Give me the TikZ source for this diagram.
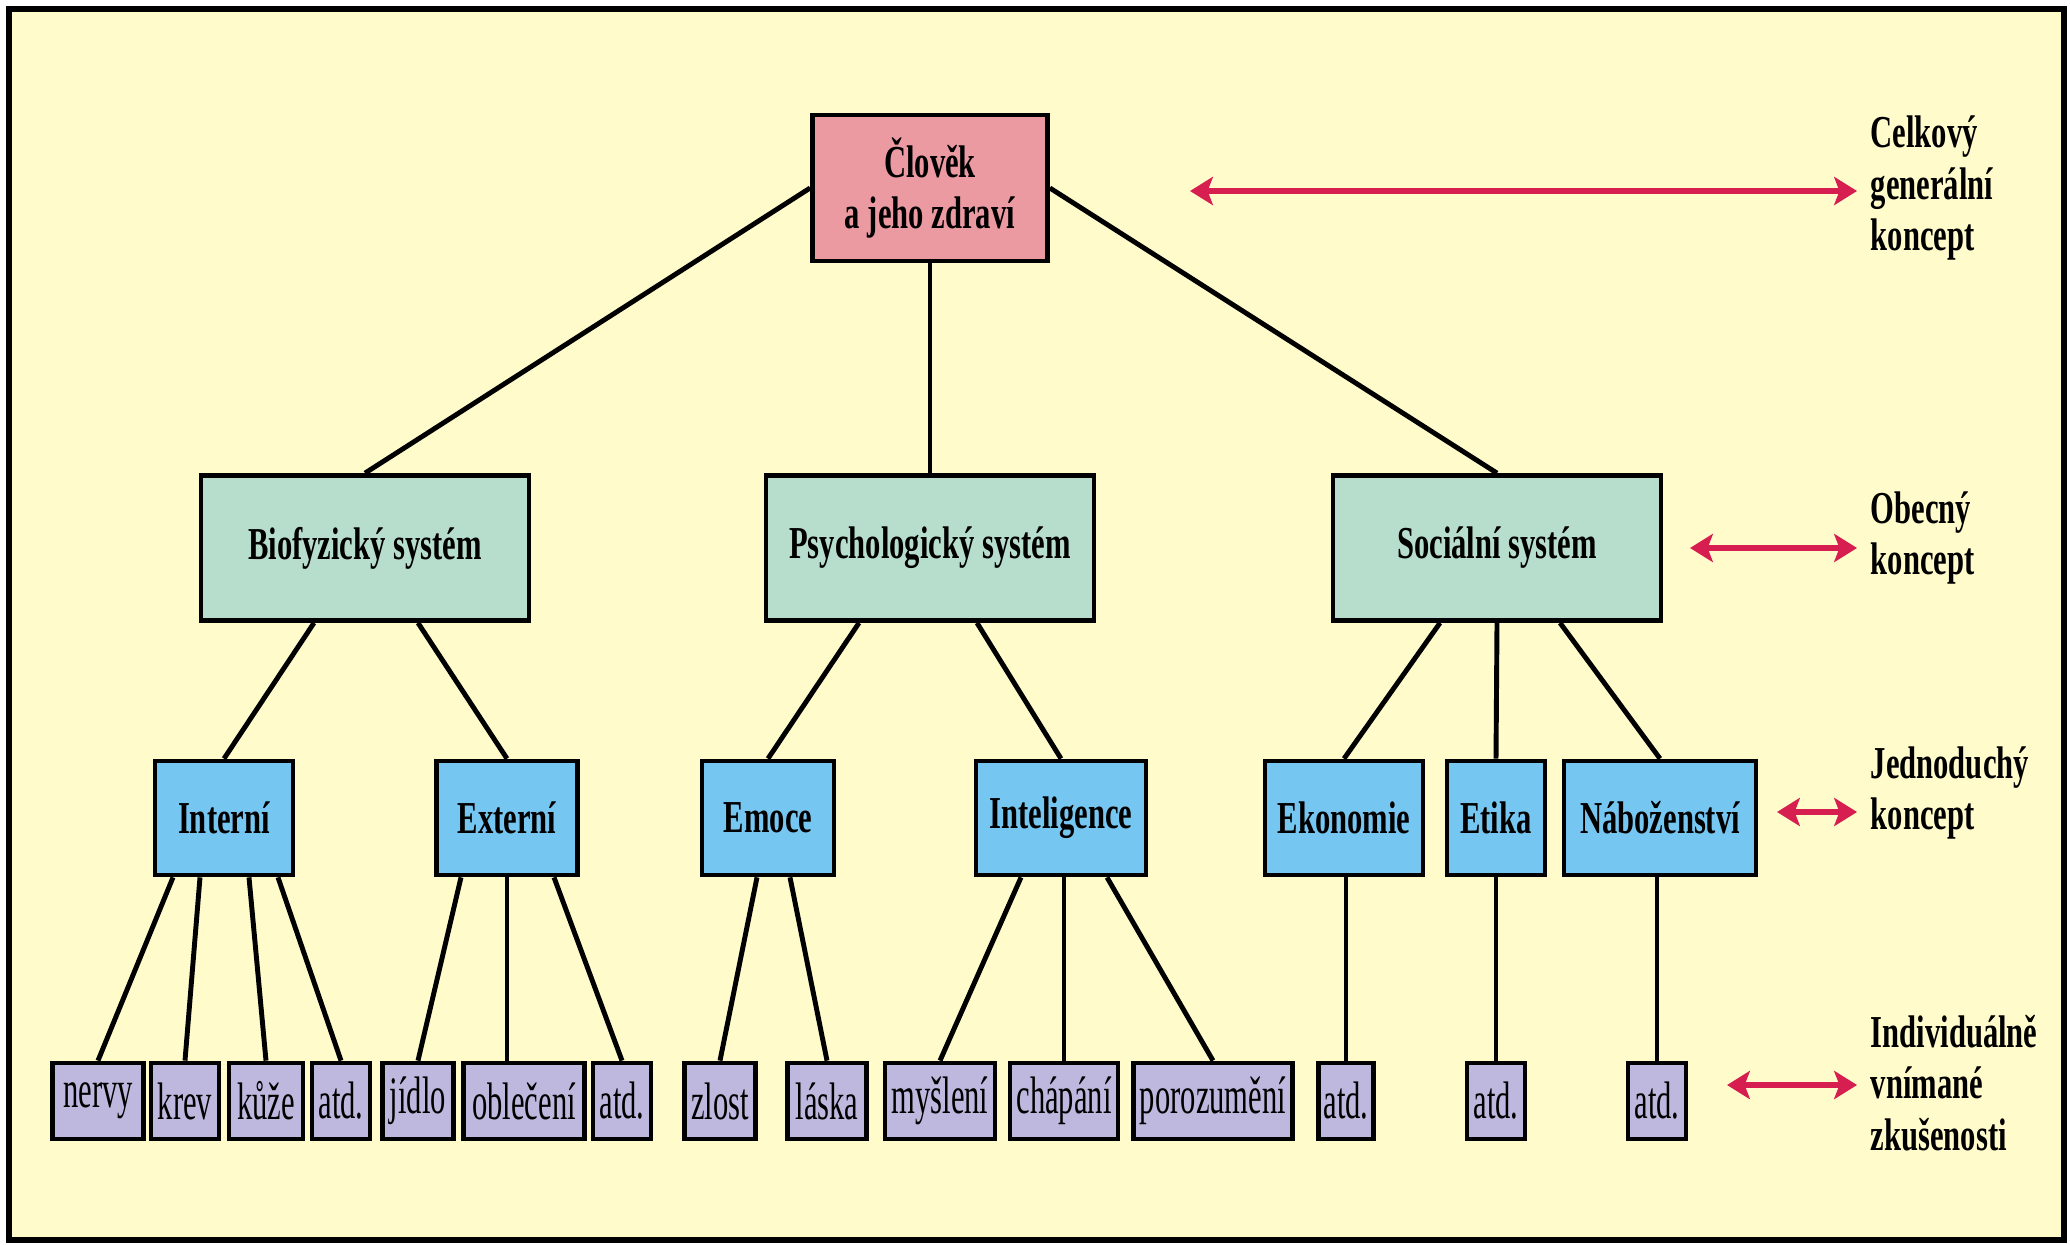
\documentclass[tikz,border=0pt]{standalone}
\usepackage{fontspec}
\setmainfont{Liberation Serif}
\newfontfamily\headfont{Liberation Serif}[FakeStretch=0.67]
\newfontfamily\leaffont{Liberation Serif}[FakeStretch=0.58]
\usetikzlibrary{arrows.meta}
\definecolor{paperyellow}{RGB}{255,251,203}
\definecolor{rootpink}{RGB}{236,154,162}
\definecolor{systemgreen}{RGB}{183,222,204}
\definecolor{conceptblue}{RGB}{118,198,242}
\definecolor{leaflilac}{RGB}{190,183,222}
\definecolor{arrowred}{RGB}{214,30,80}

\begin{document}
\begin{tikzpicture}[x=1cm, y=-1cm,
  box/.style={draw=black, line width=1.35pt, inner sep=0pt, align=center},
  rootbox/.style={box, fill=rootpink, minimum width=2.35cm, minimum height=1.46cm,
    font=\headfont\bfseries\fontsize{13}{14.6}\selectfont},
  sysbox/.style={box, fill=systemgreen, minimum width=3.28cm, minimum height=1.45cm,
    font=\headfont\bfseries\fontsize{13}{14.6}\selectfont},
  conbox/.style={box, fill=conceptblue, minimum height=1.14cm,
    font=\headfont\bfseries\fontsize{13}{14.6}\selectfont},
  leafbox/.style={box, fill=leaflilac, minimum height=0.76cm,
    font=\leaffont\fontsize{15}{17}\selectfont},
  link/.style={line width=1.4pt},
  levelarrow/.style={arrowred, line width=1.5pt,
    {Stealth[length=6.5pt, width=8pt, inset=1.5pt]}-{Stealth[length=6.5pt, width=8pt, inset=1.5pt]}},
  levellabel/.style={anchor=west, align=left, inner xsep=0.13cm, inner ysep=0pt,
    font=\headfont\bfseries\fontsize{13}{14.6}\selectfont}]
  \useasboundingbox (0,0) rectangle (20.70,12.44);
  \draw[line width=1.5pt, fill=paperyellow] (0.09,0.09) rectangle (20.64,12.40);

  % Top concept
  \node[rootbox] (root) at (9.30,1.88) {Člověk\\a jeho zdraví};

  % Systems
  \node[sysbox] (bio) at (3.65,5.48) {Biofyzický systém};
  \node[sysbox] (psy) at (9.30,5.48) {Psychologický systém};
  \node[sysbox] (soc) at (14.97,5.48) {Sociální systém};

  % Simple concepts
  \node[conbox, minimum width=1.38cm] (interni) at (2.24,8.18) {Interní};
  \node[conbox, minimum width=1.41cm] (externi) at (5.07,8.18) {Externí};
  \node[conbox, minimum width=1.32cm] (emoce) at (7.68,8.18) {Emoce};
  \node[conbox, minimum width=1.70cm] (inteligence) at (10.61,8.18) {Inteligence};
  \node[conbox, minimum width=1.58cm] (ekonomie) at (13.44,8.18) {Ekonomie};
  \node[conbox, minimum width=0.98cm] (etika) at (14.96,8.18) {Etika};
  \node[conbox, minimum width=1.92cm] (nabozenstvi) at (16.60,8.18) {Náboženství};

  % Experiences
  \node[leafbox, minimum width=0.91cm] (nervy) at (0.98,11.01) {nervy};
  \node[leafbox, minimum width=0.68cm] (krev) at (1.85,11.01) {krev};
  \node[leafbox, minimum width=0.74cm] (kuze) at (2.66,11.01) {kůže};
  \node[leafbox, minimum width=0.58cm] (atdA) at (3.41,11.01) {atd.};
  \node[leafbox, minimum width=0.71cm] (jidlo) at (4.18,11.01) {jídlo};
  \node[leafbox, minimum width=1.21cm] (obleceni) at (5.24,11.01) {oblečení};
  \node[leafbox, minimum width=0.58cm] (atdB) at (6.22,11.01) {atd.};
  \node[leafbox, minimum width=0.71cm] (zlost) at (7.20,11.01) {zlost};
  \node[leafbox, minimum width=0.79cm] (laska) at (8.27,11.01) {láska};
  \node[leafbox, minimum width=1.10cm] (mysleni) at (9.40,11.01) {myšlení};
  \node[leafbox, minimum width=1.08cm] (chapani) at (10.64,11.01) {chápání};
  \node[leafbox, minimum width=1.59cm] (porozumeni) at (12.13,11.01) {porozumění};
  \node[leafbox, minimum width=0.55cm] (atdC) at (13.46,11.01) {atd.};
  \node[leafbox, minimum width=0.58cm] (atdD) at (14.96,11.01) {atd.};
  \node[leafbox, minimum width=0.58cm] (atdE) at (16.57,11.01) {atd.};

  % Tree links
  \draw[link] (root.west) -- (bio.north);
  \draw[link] (root.south) -- (psy.north);
  \draw[link] (root.east) -- (soc.north);

  \draw[link] ([xshift=-0.51cm]bio.south) -- (interni.north);
  \draw[link] ([xshift=0.53cm]bio.south) -- (externi.north);
  \draw[link] ([xshift=-0.71cm]psy.south) -- (emoce.north);
  \draw[link] ([xshift=0.47cm]psy.south) -- (inteligence.north);
  \draw[link] ([xshift=-0.57cm]soc.south) -- (ekonomie.north);
  \draw[link] (soc.south) -- (etika.north);
  \draw[link] ([xshift=0.63cm]soc.south) -- (nabozenstvi.north);

  \draw[link] ([xshift=-0.51cm]interni.south) -- (nervy.north);
  \draw[link] ([xshift=-0.24cm]interni.south) -- (krev.north);
  \draw[link] ([xshift=0.25cm]interni.south) -- (kuze.north);
  \draw[link] ([xshift=0.54cm]interni.south) -- (atdA.north);
  \draw[link] ([xshift=-0.46cm]externi.south) -- (jidlo.north);
  \draw[link] (externi.south) -- (externi.south |- obleceni.north);
  \draw[link] ([xshift=0.47cm]externi.south) -- (atdB.north);
  \draw[link] ([xshift=-0.11cm]emoce.south) -- (zlost.north);
  \draw[link] ([xshift=0.22cm]emoce.south) -- (laska.north);
  \draw[link] ([xshift=-0.40cm]inteligence.south) -- (mysleni.north);
  \draw[link] (chapani.north |- inteligence.south) -- (chapani.north);
  \draw[link] ([xshift=0.46cm]inteligence.south) -- (porozumeni.north);
  \draw[link] (atdC.north |- ekonomie.south) -- (atdC.north);
  \draw[link] (etika.south) -- (atdD.north);
  \draw[link] (atdE.north |- nabozenstvi.south) -- (atdE.north);

  % Concept levels
  \node[levellabel] (celkovy) at (18.57,1.88) {Celkový\\generální\\koncept};
  \node[levellabel] (obecny) at (18.57,5.38) {Obecný\\koncept};
  \node[levellabel] (jednoduchy) at (18.57,7.93) {Jednoduchý\\koncept};
  \node[levellabel] (individualne) at (18.57,10.83) {Individuálně\\vnímané\\zkušenosti};

  \coordinate (arrowA) at (11.90,1.91);
  \coordinate (arrowB) at (16.90,5.48);
  \coordinate (arrowC) at (17.77,8.12);
  \coordinate (arrowD) at (17.27,10.85);
  \draw[levelarrow] (arrowA) -- (arrowA -| celkovy.west);
  \draw[levelarrow] (arrowB) -- (arrowB -| obecny.west);
  \draw[levelarrow] (arrowC) -- (arrowC -| jednoduchy.west);
  \draw[levelarrow] (arrowD) -- (arrowD -| individualne.west);
\end{tikzpicture}
\end{document}
